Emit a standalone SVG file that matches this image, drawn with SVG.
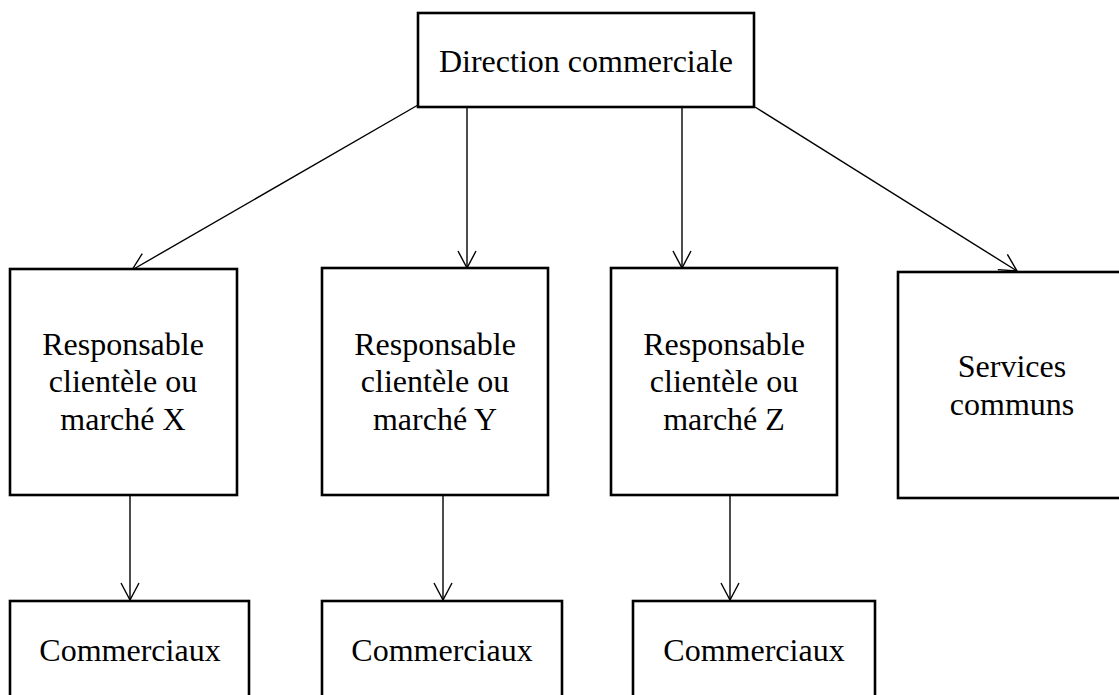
<svg xmlns="http://www.w3.org/2000/svg" width="1119" height="695" viewBox="0 0 1119 695">
  <style>
    .box { fill: #fff; stroke: #000; stroke-width: 2.6; }
    .lbl { font-family: "Liberation Serif", "Times New Roman", serif; font-size: 32px; fill: #000; text-anchor: middle; }
    .con { stroke: #000; stroke-width: 1.4; fill: none; marker-end: url(#arr); }
  </style>
  <defs>
    <marker id="arr" markerUnits="userSpaceOnUse" viewBox="-20 -11 22 22" markerWidth="22" markerHeight="22" refX="0" refY="0" orient="auto" overflow="visible">
      <path d="M-17,-9 L0,0 L-17,9" fill="none" stroke="#000" stroke-width="1.4"/>
    </marker>
  </defs>
  <rect width="1119" height="695" fill="#fff"/>

  <g id="connectors">
    <line class="con" x1="418" y1="105" x2="132" y2="270"/>
    <line class="con" x1="467" y1="104" x2="467" y2="268"/>
    <line class="con" x1="682" y1="104" x2="682" y2="268"/>
    <line class="con" x1="755" y1="107" x2="1017" y2="271"/>
    <line class="con" x1="130" y1="493" x2="130" y2="600"/>
    <line class="con" x1="443" y1="493" x2="443" y2="600"/>
    <line class="con" x1="730" y1="493" x2="730" y2="600"/>
  </g>

  <g id="direction">
    <rect class="box" x="418" y="13" width="336" height="94"/>
    <text class="lbl" x="586" y="72">Direction commerciale</text>
  </g>

  <g id="resp-x">
    <rect class="box" x="10" y="269" width="227" height="226"/>
    <text class="lbl" x="123" y="355">Responsable</text>
    <text class="lbl" x="123" y="392">clientèle ou</text>
    <text class="lbl" x="123" y="430">marché X</text>
  </g>

  <g id="resp-y">
    <rect class="box" x="322" y="268" width="226" height="227"/>
    <text class="lbl" x="435" y="355">Responsable</text>
    <text class="lbl" x="435" y="392">clientèle ou</text>
    <text class="lbl" x="435" y="430">marché Y</text>
  </g>

  <g id="resp-z">
    <rect class="box" x="611" y="268" width="226" height="227"/>
    <text class="lbl" x="724" y="355">Responsable</text>
    <text class="lbl" x="724" y="392">clientèle ou</text>
    <text class="lbl" x="724" y="430">marché Z</text>
  </g>

  <g id="services">
    <rect class="box" x="898" y="272" width="228" height="226"/>
    <text class="lbl" x="1012" y="377">Services</text>
    <text class="lbl" x="1012" y="415">communs</text>
  </g>

  <g id="com-x">
    <rect class="box" x="10" y="601" width="239" height="110"/>
    <text class="lbl" x="130" y="661">Commerciaux</text>
  </g>

  <g id="com-y">
    <rect class="box" x="322" y="601" width="240" height="110"/>
    <text class="lbl" x="442" y="661">Commerciaux</text>
  </g>

  <g id="com-z">
    <rect class="box" x="633" y="601" width="242" height="110"/>
    <text class="lbl" x="754" y="661">Commerciaux</text>
  </g>
</svg>
